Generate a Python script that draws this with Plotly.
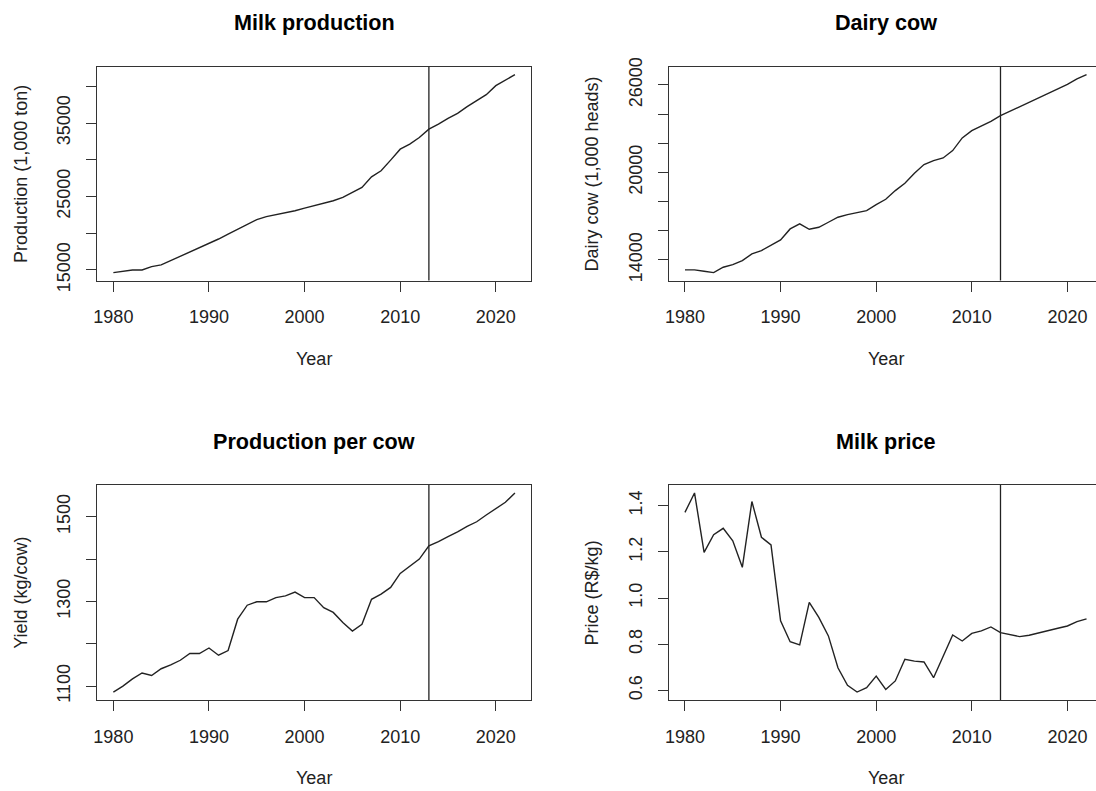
import plotly.graph_objects as go

# Annual series, 1980-2022
years = list(range(1980, 2023))

production = [14640, 14820, 15000, 15000, 15450, 15680, 16270, 16810, 17400, 17990,
              18620, 19210, 19890, 20530, 21160, 21840, 22250, 22520, 22740, 23060,
              23420, 23740, 24060, 24420, 24870, 25510, 26230, 27680, 28500, 29950,
              31440, 32120, 33030, 34160, 34840, 35640, 36320, 37230, 38050, 38860,
              40090, 40860, 41590]

dairy_cows = [13314, 13314, 13223, 13131, 13497, 13680, 13954, 14411, 14640, 15029,
              15371, 16126, 16469, 16103, 16240, 16583, 16926, 17109, 17246, 17383,
              17794, 18160, 18754, 19257, 19943, 20537, 20811, 20994, 21497, 22366,
              22869, 23189, 23509, 23897, 24194, 24514, 24811, 25109, 25429, 25726,
              26046, 26411, 26709]

yield_per_cow = [1086, 1100, 1117, 1131, 1125, 1141, 1150, 1161, 1177, 1177,
                 1190, 1173, 1184, 1258, 1291, 1299, 1299, 1309, 1313, 1322,
                 1309, 1309, 1285, 1274, 1250, 1230, 1246, 1305, 1317, 1333,
                 1366, 1382, 1400, 1431, 1441, 1453, 1464, 1477, 1488, 1504,
                 1518, 1534, 1556]

milk_price = [1.371, 1.455, 1.198, 1.274, 1.302, 1.248, 1.133, 1.418, 1.263, 1.230,
              0.901, 0.811, 0.797, 0.981, 0.916, 0.836, 0.698, 0.622, 0.593, 0.612,
              0.662, 0.604, 0.641, 0.735, 0.727, 0.723, 0.655, 0.749, 0.840, 0.814,
              0.847, 0.858, 0.875, 0.850, 0.840, 0.833, 0.839, 0.850, 0.860, 0.869,
              0.879, 0.898, 0.910]

forecast_start = 2013

# Axis tick values and labels (some labels left blank where they would overlap)
x_ticks = [1980, 1990, 2000, 2010, 2020]
x_labels = ["1980", "1990", "2000", "2010", "2020"]
prod_ticks = [15000, 20000, 25000, 30000, 35000, 40000]
prod_labels = ["15000", "", "25000", "", "35000", ""]
cow_ticks = [14000, 16000, 18000, 20000, 22000, 24000, 26000]
cow_labels = ["14000", "", "", "20000", "", "", "26000"]
yield_ticks = [1100, 1200, 1300, 1400, 1500]
yield_labels = ["1100", "", "1300", "", "1500"]
price_ticks = [0.6, 0.8, 1.0, 1.2, 1.4]
price_labels = ["0.6", "0.8", "1.0", "1.2", "1.4"]

titles = ["Milk production", "Dairy cow", "Production per cow", "Milk price"]
y_titles = ["Production (1,000 ton)", "Dairy cow (1,000 heads)", "Yield (kg/cow)", "Price (R$/kg)"]

W, H = 1096, 791
FONT = "Liberation Sans, Arial, sans-serif"
INK = "#222222"
FRAME = "#333333"
TEXT_SIZE = 18
TITLE_SIZE = 21.6


def padded(vals, frac=0.04):
    lo, hi = min(vals), max(vals)
    r = hi - lo
    return [lo - frac * r, hi + frac * r]


# plot boxes in pixels: (left, top, right, bottom)
boxes = [
    (97.3, 66.7, 531.0, 280.5),
    (668.9, 66.7, 1103.0, 280.5),
    (97.3, 485.0, 531.0, 700.0),
    (668.9, 485.0, 1103.0, 700.0),
]

series = [production, dairy_cows, yield_per_cow, milk_price]
yticks = [(prod_ticks, prod_labels), (cow_ticks, cow_labels),
          (yield_ticks, yield_labels), (price_ticks, price_labels)]

x_full = padded(years)
px_per_year = (boxes[0][2] - boxes[0][0]) / (x_full[1] - x_full[0])

fig = go.Figure()
annotations = []
shapes = []

for i, (vals, (tv, tt)) in enumerate(zip(series, yticks)):
    n = i + 1
    xa = "x" if n == 1 else f"x{n}"
    ya = "y" if n == 1 else f"y{n}"
    left, top, right, bottom = boxes[i]
    vis_right = min(right, W)
    x_range = [x_full[0], x_full[0] + (vis_right - left) / px_per_year]

    fig.add_trace(go.Scatter(
        x=years, y=vals, mode="lines",
        line=dict(color=INK, width=1.4),
        xaxis=xa, yaxis=ya, showlegend=False, hoverinfo="x+y",
    ))

    axis_common = dict(
        showline=True, linecolor=FRAME, linewidth=1.3,
        ticks="outside", ticklen=10, tickwidth=1.3, tickcolor=FRAME,
        showgrid=False, zeroline=False,
        tickfont=dict(family=FONT, size=TEXT_SIZE, color=INK),
        automargin=False, fixedrange=True,
    )

    fig.update_layout(**{
        ("xaxis" if n == 1 else f"xaxis{n}"): dict(
            axis_common,
            domain=[left / W, vis_right / W],
            range=x_range, anchor=ya, mirror=True,
            tickvals=x_ticks, ticktext=x_labels,
            ticklabelstandoff=10,
        ),
        ("yaxis" if n == 1 else f"yaxis{n}"): dict(
            axis_common,
            domain=[(H - bottom) / H, (H - top) / H],
            range=padded(vals), anchor=xa, mirror=(right <= W),
            tickvals=tv, ticktext=tt, tickangle=-90,
            ticklabelstandoff=9,
        ),
    })

    # forecast boundary
    shapes.append(dict(type="line", xref=xa, yref=f"{ya} domain",
                       x0=forecast_start, x1=forecast_start, y0=0, y1=1,
                       line=dict(color=INK, width=1.3)))

    cx = (left + right) / 2
    cy = (top + bottom) / 2
    annotations.append(dict(text=f"<b>{titles[i]}</b>", xref="paper", yref="paper",
                            x=cx / W, y=(H - (top - 44)) / H, showarrow=False,
                            xanchor="center", yanchor="middle",
                            font=dict(family=FONT, size=TITLE_SIZE, color="#000000")))
    annotations.append(dict(text="Year", xref="paper", yref="paper",
                            x=cx / W, y=(H - (bottom + 78)) / H, showarrow=False,
                            xanchor="center", yanchor="middle",
                            font=dict(family=FONT, size=TEXT_SIZE, color=INK)))
    annotations.append(dict(text=y_titles[i], xref="paper", yref="paper",
                            x=(left - 77) / W, y=(H - cy) / H, showarrow=False,
                            textangle=-90, xanchor="center", yanchor="middle",
                            font=dict(family=FONT, size=TEXT_SIZE, color=INK)))

fig.update_layout(
    width=W, height=H,
    margin=dict(l=0, r=0, t=0, b=0),
    paper_bgcolor="white", plot_bgcolor="white",
    annotations=annotations, shapes=shapes,
)

fig.write_html("out.html")
